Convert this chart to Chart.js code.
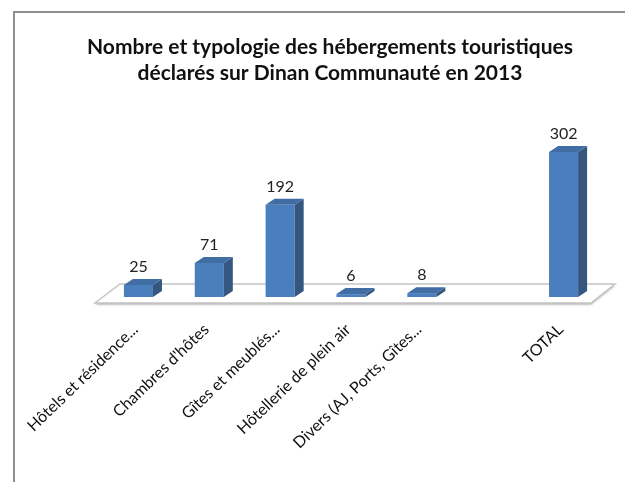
<!DOCTYPE html>
<html>
<head>
<meta charset="utf-8">
<script src="https://cdn.jsdelivr.net/npm/chart.js@4"></script>
<style>
  html, body { margin: 0; padding: 0; background: #fff; }
  #wrap { position: relative; width: 625px; height: 482px; }
</style>
</head>
<body>
<div id="wrap"><canvas id="chart" width="625" height="482"></canvas></div>
<script>
// data
const categories = [
    "Hôtels et résidence...",
    "Chambres d'hôtes",
    "Gîtes et meublés...",
    "Hôtellerie de plein air",
    "Divers (AJ, Ports, Gîtes...",
    "",
    "TOTAL"
];
const counts = [25, 71, 192, 6, 8, null, 302];
const titleLines = [
    "Nombre et typologie des hébergements touristiques",
    "déclarés sur Dinan Communauté en 2013"
];

const FONT = "Lato, 'Open Sans', sans-serif";
const DEPTH_X = 9, DEPTH_Y = 6;

// frame, title, floor, 3d faces and value labels
const excel3d = {
    id: "excel3d",
    beforeDraw(chart) {
        const ctx = chart.ctx;
        ctx.save();
        ctx.fillStyle = "#fff";
        ctx.fillRect(0, 0, chart.width, chart.height);
        ctx.strokeStyle = "#8f8f8f";
        ctx.lineWidth = 2;
        ctx.beginPath();
        ctx.moveTo(14, chart.height + 2);
        ctx.lineTo(14, 12);
        ctx.lineTo(chart.width + 2, 12);
        ctx.stroke();
        // title, centred on the frame rather than on the plot
        ctx.fillStyle = "#111";
        ctx.font = "bold 21px " + FONT;
        ctx.textAlign = "center";
        ctx.textBaseline = "middle";
        titleLines.forEach((t, i) => ctx.fillText(t, 330, 47 + i * 26));
        ctx.restore();
    },
    beforeDatasetsDraw(chart) {
        const ctx = chart.ctx;
        const a = chart.chartArea;
        const base = a.bottom;
        ctx.save();
        ctx.beginPath();
        ctx.moveTo(a.left - 8, base + 6);
        ctx.lineTo(a.right - 8, base + 6);
        ctx.lineTo(a.right + 16, base - 13);
        ctx.lineTo(a.left + 17, base - 13);
        ctx.closePath();
        ctx.fillStyle = "#ffffff";
        ctx.shadowColor = "rgba(0,0,0,0.25)";
        ctx.shadowOffsetY = 2;
        ctx.shadowBlur = 2;
        ctx.fill();
        ctx.shadowColor = "transparent";
        ctx.strokeStyle = "#c4c4c4";
        ctx.lineWidth = 1.5;
        ctx.stroke();
        ctx.restore();
    },
    afterDatasetsDraw(chart) {
        const ctx = chart.ctx;
        const meta = chart.getDatasetMeta(0);
        ctx.save();
        meta.data.forEach((bar, i) => {
            if (counts[i] === null) return;
            const w = bar.width;
            const l = bar.x - w / 2, r = bar.x + w / 2;
            const top = bar.y, bottom = bar.base;
            // side face
            ctx.fillStyle = "#34567f";
            ctx.beginPath();
            ctx.moveTo(r, bottom);
            ctx.lineTo(r + DEPTH_X, bottom - DEPTH_Y);
            ctx.lineTo(r + DEPTH_X, top - DEPTH_Y);
            ctx.lineTo(r, top);
            ctx.closePath();
            ctx.fill();
            // top face
            ctx.fillStyle = "#3f6da4";
            ctx.beginPath();
            ctx.moveTo(l, top);
            ctx.lineTo(r, top);
            ctx.lineTo(r + DEPTH_X, top - DEPTH_Y);
            ctx.lineTo(l + DEPTH_X, top - DEPTH_Y);
            ctx.closePath();
            ctx.fill();
            // value
            ctx.fillStyle = "#222";
            ctx.font = "16px " + FONT;
            ctx.textAlign = "center";
            ctx.textBaseline = "middle";
            ctx.fillText(String(counts[i]), bar.x, top - 18);
        });
        ctx.restore();
    }
};

new Chart(document.getElementById("chart"), {
    type: "bar",
    data: {
        labels: categories,
        datasets: [{
            data: counts,
            backgroundColor: "#4a7ebd",
            borderWidth: 0,
            barPercentage: 0.41,
            categoryPercentage: 1
        }]
    },
    options: {
        responsive: false,
        animation: false,
        layout: { padding: { top: 129, left: 103, right: 26, bottom: 0 } },
        plugins: {
            legend: { display: false },
            tooltip: { enabled: false },
            title: { display: false }
        },
        scales: {
            x: {
                grid: { display: false },
                border: { display: false },
                ticks: {
                    autoSkip: false,
                    minRotation: 44,
                    maxRotation: 44,
                    padding: 15,
                    labelOffset: -3,
                    color: "#111",
                    font: { family: FONT, size: 16 }
                },
                afterFit(scale) { scale.height = 185; }
            },
            y: {
                display: false,
                min: 0,
                max: 350
            }
        }
    },
    plugins: [excel3d]
});
</script>
</body>
</html>
